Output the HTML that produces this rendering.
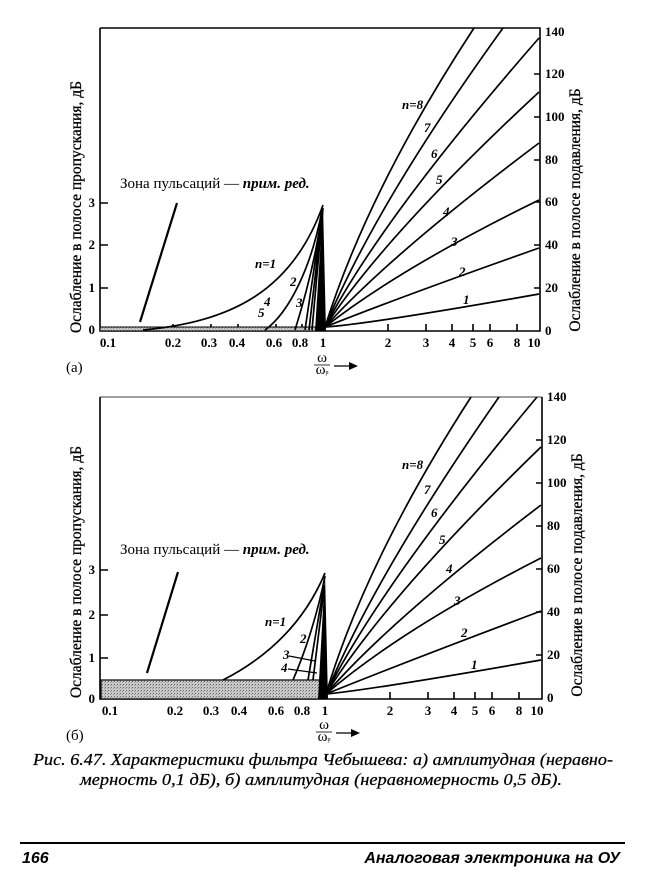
<!DOCTYPE html>
<html><head><meta charset="utf-8"><style>
html,body{margin:0;padding:0;background:#fff}
svg{display:block}
.t{font-family:"Liberation Serif",serif;font-weight:bold;font-size:13px;fill:#000}
.lab{font-family:"Liberation Serif",serif;font-size:15px;fill:#000}
.ax{font-family:"Liberation Serif",serif;font-size:15.5px;fill:#000;stroke:#000;stroke-width:0.3}
.cap{font-family:"Liberation Serif",serif;font-style:italic;font-size:17px;fill:#000;stroke:#000;stroke-width:0.25}
.ft{font-family:"Liberation Sans",sans-serif;font-style:italic;font-weight:bold;font-size:16px;fill:#000}
</style></head><body>
<svg width="650" height="880" viewBox="0 0 650 880" xmlns="http://www.w3.org/2000/svg">
<defs>
<pattern id="dots" width="3" height="3" patternUnits="userSpaceOnUse">
<rect width="3" height="3" fill="#c8c8c8"/><rect width="1" height="1" fill="#666"/><rect x="2" y="1" width="1" height="1" fill="#999"/>
</pattern>
</defs>
<g fill="none" stroke="#000" stroke-width="1.6">
<path d="M100,28 L100,331 L540,331 L540,28 L100,28"/>
<path d="M100,203 h8 M100,245 h8 M100,288 h8"/>
<path d="M540,74 h-6 M540,117 h-6 M540,160 h-6 M540,202 h-6 M540,245 h-6 M540,288 h-6"/>
<path d="M173,331 v-7 M211,331 v-7 M238,331 v-7 M276,331 v-7 M302,331 v-7 M388,331 v-7 M426,331 v-7 M452,331 v-7 M473,331 v-7 M490,331 v-7 M517,331 v-7"/>
</g>
<rect x="100" y="327" width="223" height="4" fill="url(#dots)" stroke="#000" stroke-width="1"/>
<g fill="none" stroke="#000" stroke-width="1.7">
<path d="M140,322 L177,203" stroke-width="2.2"/>
<path d="M143,330 C230,322 292,292 323,205"/>
<path d="M265,330 C290,312 312,265 322,210"/>
<path d="M295,330 C305,298 316,258 322,212"/>
<path d="M305,330 L323,208 M309,330 L323,208 M312,330 L323,208"/>
<path d="M325,327 Q370,324 539,294"/>
<path d="M325,327 Q400,297 539,248"/>
<path d="M325,327 Q400,268 539,200"/>
<path d="M325,327 Q390,255 539,143"/>
<path d="M325,327 Q385,235 539,92"/>
<path d="M325,327 Q380,220 539,38"/>
<path d="M325,327 Q375,205 503,28"/>
<path d="M325,327 Q368,190 474,28"/>
</g>
<polygon points="315,331 323,204 326,331" fill="#000"/>
<g class="t">
<text x="95" y="207" text-anchor="end">3</text>
<text x="95" y="249" text-anchor="end">2</text>
<text x="95" y="292" text-anchor="end">1</text>
<text x="95" y="334" text-anchor="end">0</text>
<g text-anchor="middle">
<text x="108" y="347">0.1</text><text x="173" y="347">0.2</text><text x="209" y="347">0.3</text><text x="237" y="347">0.4</text><text x="274" y="347">0.6</text><text x="300" y="347">0.8</text><text x="323" y="347">1</text>
<text x="388" y="347">2</text><text x="426" y="347">3</text><text x="452" y="347">4</text><text x="473" y="347">5</text><text x="490" y="347">6</text><text x="517" y="347">8</text><text x="534" y="347">10</text>
</g>
<g text-anchor="start">
<text x="545" y="36">140</text><text x="545" y="78">120</text><text x="545" y="121">100</text><text x="545" y="164">80</text><text x="545" y="206">60</text><text x="545" y="249">40</text><text x="545" y="292">20</text><text x="545" y="335">0</text>
</g>
<g font-style="italic">
<text x="402" y="109">n=8</text><text x="424" y="132">7</text><text x="431" y="158">6</text><text x="436" y="184">5</text><text x="443" y="216">4</text><text x="451" y="246">3</text><text x="459" y="276">2</text><text x="463" y="304">1</text>
<text x="255" y="268">n=1</text><text x="290" y="286">2</text><text x="296" y="307">3</text><text x="264" y="306">4</text><text x="258" y="317">5</text>
</g>
</g>
<text x="120" y="188" class="lab" font-size="14">Зона пульсаций — <tspan font-style="italic" font-weight="bold">прим. ред.</tspan></text>
<text class="ax" transform="translate(81,207) rotate(-90)" text-anchor="middle">Ослабление в полосе пропускания, дБ</text>
<text class="ax" transform="translate(580,210) rotate(-90)" text-anchor="middle">Ослабление в полосе подавления, дБ</text>
<text x="66" y="372" class="lab">(а)</text>
<g class="lab" font-size="9"><text x="322" y="362" text-anchor="middle">ω</text><text x="322" y="374" text-anchor="middle">ω<tspan font-size="6">p</tspan></text></g>
<path d="M314,365 H330" stroke="#000" stroke-width="0.8"/>
<path d="M334,366 H352" stroke="#000" stroke-width="1.3"/><polygon points="358,366 349,362 349,370" fill="#000"/>

<g fill="none" stroke="#000" stroke-width="1.6">
<path d="M100,397 L100,699 L542,699 L542,397" />
<path d="M100,397 L542,397" stroke-width="0.8"/>
<path d="M100,570 h8 M100,615 h8 M100,658 h8"/>
<path d="M542,440 h-6 M542,483 h-6 M542,526 h-6 M542,569 h-6 M542,612 h-6 M542,655 h-6"/>
<path d="M175,699 v-7 M213,699 v-7 M240,699 v-7 M278,699 v-7 M304,699 v-7 M390,699 v-7 M428,699 v-7 M454,699 v-7 M475,699 v-7 M492,699 v-7 M519,699 v-7"/>
</g>
<rect x="101" y="680" width="224" height="19" fill="url(#dots)" stroke="#000" stroke-width="1.2"/>
<g fill="none" stroke="#000" stroke-width="1.7">
<path d="M147,673 L178,572" stroke-width="2.2"/>
<path d="M223,680 C262,660 302,628 325,573"/>
<path d="M293,680 C306,650 318,612 325,576"/>
<path d="M308,680 L324,585 M313,680 L324,590"/>
<path d="M289,656 L315,661 M288,669 L317,673" stroke-width="1.2"/>
<path d="M326,694 Q370,690 541,660"/>
<path d="M326,694 Q400,664 541,611"/>
<path d="M326,694 Q400,630 541,558"/>
<path d="M326,694 Q390,620 541,505"/>
<path d="M326,694 Q385,598 541,447"/>
<path d="M326,694 Q380,585 537,397"/>
<path d="M326,694 Q375,575 499,397"/>
<path d="M326,694 Q366,560 471,397"/>
</g>
<polygon points="318,699 325,572 328,699" fill="#000"/>
<g class="t">
<text x="95" y="574" text-anchor="end">3</text>
<text x="95" y="619" text-anchor="end">2</text>
<text x="95" y="662" text-anchor="end">1</text>
<text x="95" y="703" text-anchor="end">0</text>
<g text-anchor="middle">
<text x="110" y="715">0.1</text><text x="175" y="715">0.2</text><text x="211" y="715">0.3</text><text x="239" y="715">0.4</text><text x="276" y="715">0.6</text><text x="302" y="715">0.8</text><text x="325" y="715">1</text>
<text x="390" y="715">2</text><text x="428" y="715">3</text><text x="454" y="715">4</text><text x="475" y="715">5</text><text x="492" y="715">6</text><text x="519" y="715">8</text><text x="537" y="715">10</text>
</g>
<g text-anchor="start">
<text x="547" y="401">140</text><text x="547" y="444">120</text><text x="547" y="487">100</text><text x="547" y="530">80</text><text x="547" y="573">60</text><text x="547" y="616">40</text><text x="547" y="659">20</text><text x="547" y="702">0</text>
</g>
<g font-style="italic">
<text x="402" y="469">n=8</text><text x="424" y="494">7</text><text x="431" y="517">6</text><text x="439" y="544">5</text><text x="446" y="573">4</text><text x="454" y="605">3</text><text x="461" y="637">2</text><text x="471" y="669">1</text>
<text x="265" y="626">n=1</text><text x="300" y="643">2</text><text x="283" y="659">3</text><text x="281" y="672">4</text>
</g>
</g>
<text x="120" y="554" class="lab" font-size="14">Зона пульсаций — <tspan font-style="italic" font-weight="bold">прим. ред.</tspan></text>
<text class="ax" transform="translate(81,572) rotate(-90)" text-anchor="middle">Ослабление в полосе пропускания, дБ</text>
<text class="ax" transform="translate(582,575) rotate(-90)" text-anchor="middle">Ослабление в полосе подавления, дБ</text>
<text x="66" y="740" class="lab">(б)</text>
<g class="lab" font-size="9"><text x="324" y="729" text-anchor="middle">ω</text><text x="324" y="741" text-anchor="middle">ω<tspan font-size="6">p</tspan></text></g>
<path d="M316,732 H332" stroke="#000" stroke-width="0.8"/>
<path d="M336,733 H354" stroke="#000" stroke-width="1.3"/><polygon points="360,733 351,729 351,737" fill="#000"/>

<text x="33" y="765" class="cap" textLength="580" lengthAdjust="spacingAndGlyphs">Рис. 6.47. Характеристики фильтра Чебышева: а) амплитудная (неравно-</text>
<text x="80" y="785" class="cap" textLength="482" lengthAdjust="spacingAndGlyphs">мерность 0,1 дБ), б) амплитудная (неравномерность 0,5 дБ).</text>
<path d="M20,843 H625" stroke="#000" stroke-width="2"/>
<text x="22" y="863" class="ft">166</text>
<text x="620" y="863" class="ft" text-anchor="end">Аналоговая электроника на ОУ</text>
</svg>
</body></html>
